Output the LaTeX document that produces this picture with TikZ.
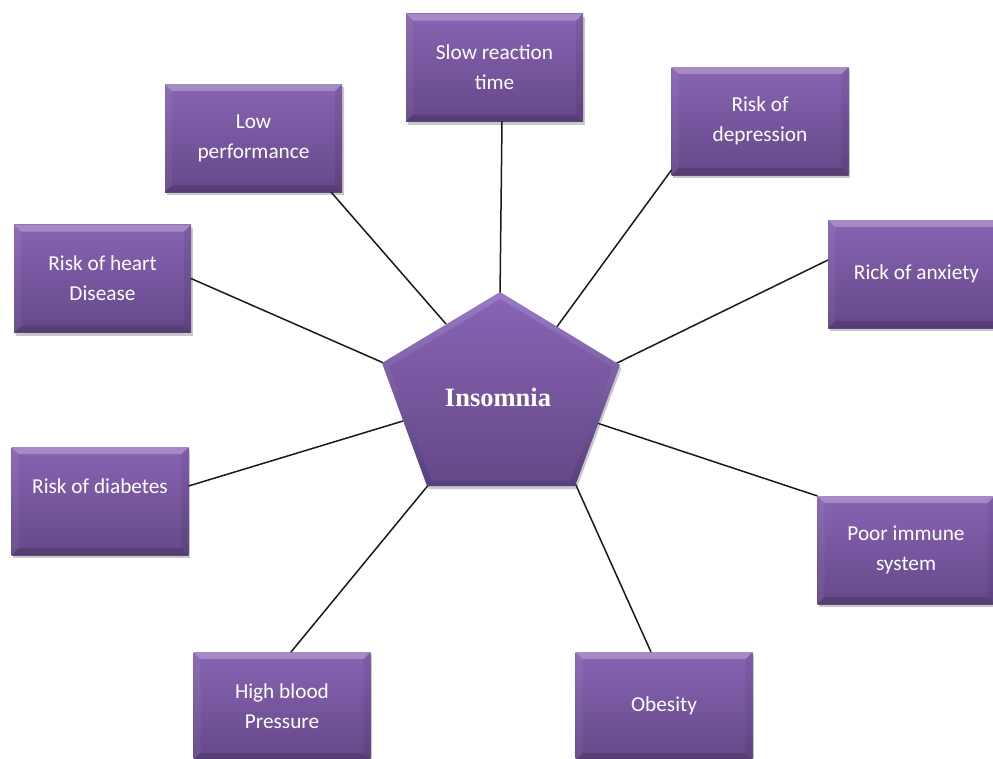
\documentclass[tikz,border=0pt]{standalone}
\usepackage{fontspec}
\setmainfont{Liberation Serif}
\newfontfamily\boxfont{Carlito}
\usetikzlibrary{shadows}
\definecolor{boxtop}{HTML}{8864B3}
\definecolor{boxbot}{HTML}{654889}
\definecolor{penlight}{HTML}{9A7AC8}
\definecolor{pendark}{HTML}{573E7C}
\definecolor{linecol}{HTML}{1A1A1A}
\tikzset{
  bevel/.style={path picture={
    \fill[white,opacity=0.25] (path picture bounding box.north west) -- (path picture bounding box.north east) -- ++(-7pt,-7pt) -- ([shift={(7pt,-7pt)}]path picture bounding box.north west) -- cycle;
    \fill[black,opacity=0.15] (path picture bounding box.south west) -- (path picture bounding box.south east) -- ++(-7pt,7pt) -- ([shift={(7pt,7pt)}]path picture bounding box.south west) -- cycle;
    \fill[white,opacity=0.05] (path picture bounding box.south west) -- (path picture bounding box.north west) -- ++(7pt,-7pt) -- ([shift={(7pt,7pt)}]path picture bounding box.south west) -- cycle;
    \fill[black,opacity=0.07] (path picture bounding box.south east) -- (path picture bounding box.north east) -- ++(-7pt,-7pt) -- ([shift={(-7pt,7pt)}]path picture bounding box.south east) -- cycle;
  }},
  bx/.style={rectangle, minimum width=177pt, minimum height=108pt, inner sep=2pt, outer sep=0pt,
    top color=boxtop, bottom color=boxbot, text=white, align=center,
    font=\boxfont\fontsize{21.3}{30}\selectfont,
    drop shadow={shadow xshift=1.5pt, shadow yshift=-3pt, opacity=0.3, fill=black!70},
    bevel},
  conn/.style={draw=linecol, line width=1.5pt},
}
\begin{document}
\begin{tikzpicture}[x=1pt,y=-1pt]
\useasboundingbox (0,0) rectangle (993,758);
\clip (0,0) rectangle (993,758);
\fill[white] (0,0) rectangle (993,758);

% boxes
\node[bx] (slow) at (494.5,67.5) {Slow reaction\\time};
\node[bx] (low)  at (253.5,138) {Low\\performance};
\node[bx] (dep)  at (760,121) {Risk of\\depression};
\node[bx] (heart) at (102.5,278.5) {Risk of heart\\Disease};
\node[bx] (anx)  at (916.5,274) {Rick of anxiety};
\node[bx] (dia)  at (100,501) {Risk of diabetes\\\mbox{}};
\node[bx] (imm)  at (906,550) {Poor immune\\system};
\node[bx] (high) at (282,706) {High blood\\Pressure};
\node[bx] (obe)  at (664,706) {Obesity};

% pentagon edge points
\coordinate (eslow) at (500,296);
\coordinate (elow) at (446,324);
\coordinate (edep) at (556,328);
\coordinate (eheart) at (386,364);
\coordinate (eanx) at (615,364);
\coordinate (edia) at (403,421);
\coordinate (eimm) at (597,423);
\coordinate (ehigh) at (430,483);
\coordinate (eobe) at (575,483);

% connectors
\draw[conn] ([xshift=7.5pt]slow.south) -- (eslow);
\draw[conn] ([xshift=-11pt]low.south east) -- (elow);
\draw[conn] ([yshift=5pt]dep.south west) -- (edep);
\draw[conn] (heart.east) -- (eheart);
\draw[conn] ([yshift=14pt]anx.west) -- (eanx);
\draw[conn] ([yshift=15pt]dia.east) -- (edia);
\draw[conn] (imm.north west) -- (eimm);
\draw[conn] ([xshift=9pt]high.north) -- (ehigh);
\draw[conn] ([xshift=-13pt]obe.north) -- (eobe);

% pentagon
\path[top color=penlight, bottom color=pendark,
  drop shadow={shadow xshift=1.5pt, shadow yshift=-3pt, opacity=0.3, fill=black!70}]
  (500,292) -- (620,365) -- (575,486) -- (427,486) -- (382,363) -- cycle;
\path[top color=boxtop, bottom color=boxbot]
  (500,299) -- (612.8,367) -- (570.5,480.8) -- (431.5,480.8) -- (389.2,367) -- cycle;
\node[text=white, font=\bfseries\fontsize{26.5}{30}\selectfont] (ins) at (498,397) {Insomnia};
\end{tikzpicture}
\end{document}
